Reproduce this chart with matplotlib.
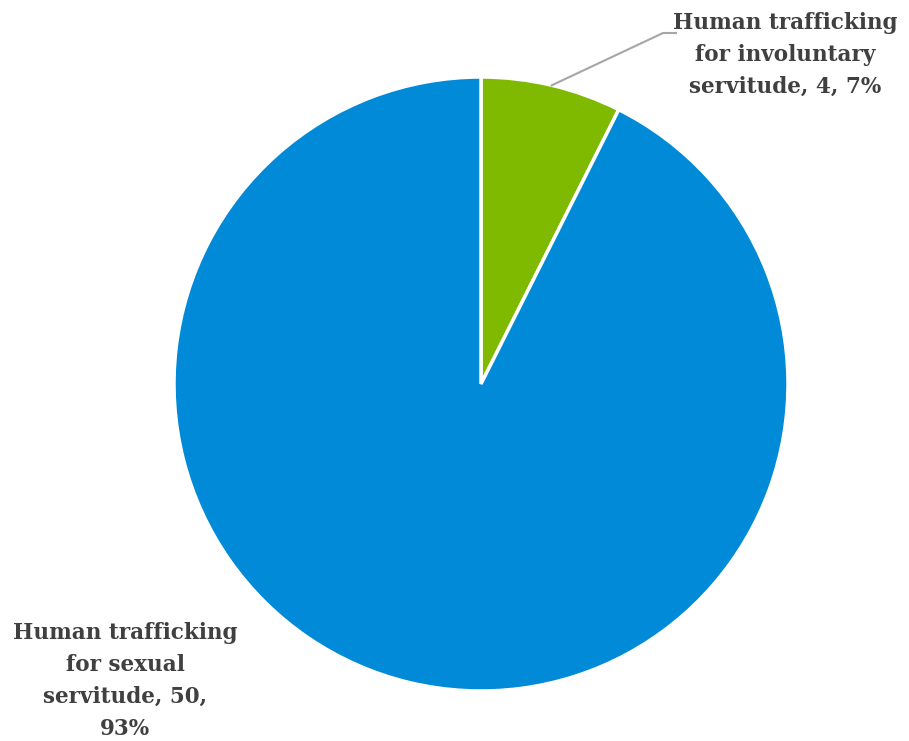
import matplotlib.pyplot as plt
import numpy as np

labels = ["Human trafficking\nfor involuntary\nservitude", "Human trafficking\nfor sexual\nservitude"]
counts = [4, 50]
colors = ["#7fba00", "#008ad7"]

W, H = 909, 741
fig = plt.figure(figsize=(W / 100, H / 100), dpi=100)
ax = fig.add_axes([0, 0, 1, 1])

cx, cy, r = 481, H - 384, 307
wedges, _ = ax.pie(counts, colors=colors, startangle=90, counterclock=False,
                   center=(cx, cy), radius=r, frame=True,
                   wedgeprops=dict(edgecolor="white", linewidth=2.5))
ax.set_xlim(0, W)
ax.set_ylim(0, H)
ax.set_aspect("equal")
ax.axis("off")

total = sum(counts)
pcts = [round(100 * c / total) for c in counts]
text_kw = dict(ha="center", va="center", fontsize=15.5, fontweight="bold",
               color="#404040", family="DejaVu Serif", linespacing=1.6)

# small slice label with leader line
ax.text(785, H - 55, f"Human trafficking\nfor involuntary\nservitude, {counts[0]}, {pcts[0]}%", **text_kw)
mid = np.deg2rad(90 - 360 * counts[0] / total / 2)
px, py = cx + r * np.cos(mid), cy + r * np.sin(mid)
ax.plot([px, 663, 676], [py, H - 33, H - 33], color="#a6a6a6", lw=1.5)

# large slice label
ax.text(125, H - 681, f"Human trafficking\nfor sexual\nservitude, {counts[1]},\n{pcts[1]}%", **text_kw)

fig.savefig("out.png", dpi=100)
